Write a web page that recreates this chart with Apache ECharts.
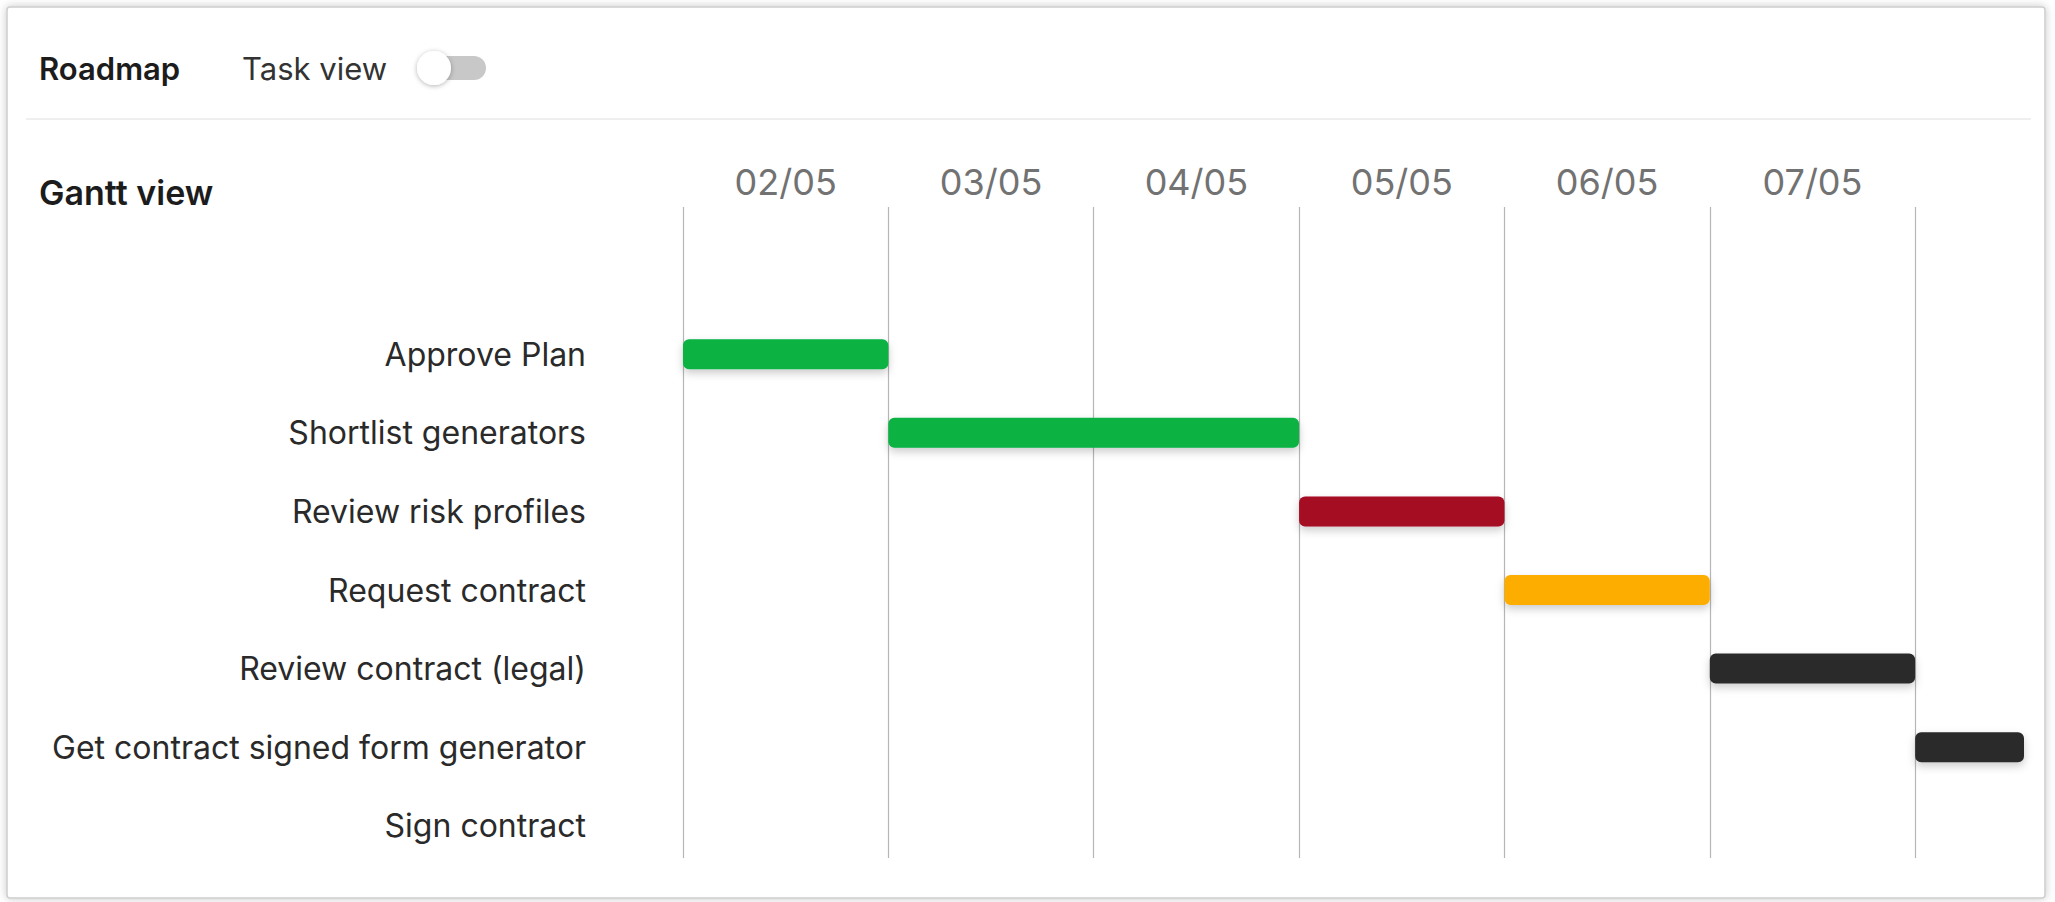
<!DOCTYPE html>
<html><head><meta charset="utf-8">
<script src="https://cdn.jsdelivr.net/npm/echarts@6/dist/echarts.min.js"></script>
<style>html,body{margin:0;padding:0;background:#fff}#c{width:2055px;height:902px}</style>
</head><body><div id="c"></div>
<script>
// ---- data ----
const tasks = ['Approve Plan','Shortlist generators','Review risk profiles','Request contract','Review contract (legal)','Get contract signed form generator','Sign contract'];
const startDay = [0, 1, 3, 4, 5, 6, null];        // days after 02/05
const durationDays = [1, 2, 1, 1, 1, 1, null];
const barColors = ['#08b343','#08b343','#a50b22','#fdac00','#2a2a2a','#2a2a2a','#2a2a2a'];
const dateLabels = ['02/05','03/05','04/05','05/05','06/05','07/05'];

const FONT = 'Inter, "Noto Sans", sans-serif';
const X_MAX = 6.53;

const chart = echarts.init(document.getElementById('c'), null, {renderer: 'svg'});
chart.setOption({
  animation: false,
  backgroundColor: '#ffffff',
  graphic: [
    {type:'rect', z:-10, shape:{x:7,y:7,width:2038,height:891,r:3},
     style:{fill:'#fff', stroke:'#cdcdcd', lineWidth:1.5, shadowBlur:8, shadowColor:'rgba(0,0,0,0.22)'}},
    {type:'rect', z:-9, shape:{x:26,y:118,width:2005,height:2}, style:{fill:'#efefef'}},
    {type:'text', z:5, x:39, y:68, style:{text:'Roadmap', font:'600 31px ' + FONT, fill:'#1c1c1c', verticalAlign:'middle'}},
    {type:'text', z:5, x:242, y:68, style:{text:'Task view', font:'400 31px ' + FONT, fill:'#333333', verticalAlign:'middle'}},
    {type:'rect', z:5, shape:{x:420,y:56,width:66,height:24,r:12}, style:{fill:'#c8c8c8'}},
    {type:'circle', z:6, shape:{cx:434,cy:68,r:17}, style:{fill:'#ffffff', shadowBlur:5, shadowColor:'rgba(0,0,0,0.3)', shadowOffsetY:1}},
    {type:'text', z:5, x:39, y:192, style:{text:'Gantt view', font:'600 34px ' + FONT, fill:'#1c1c1c', verticalAlign:'middle'}}
  ],
  grid: [
    {left: 683, right: 31, top: 207, bottom: 44},
    {left: 683, right: 31, top: 315, bottom: 37}
  ],
  xAxis: [
    {gridIndex:0, type:'value', min:0, max:X_MAX, interval:1,
     axisLine:{show:false}, axisTick:{show:false}, axisLabel:{show:false},
     splitLine:{show:true, showMinLine:true, showMaxLine:false, lineStyle:{color:'#b6b6b6', width:1.2}}},
    {gridIndex:1, type:'value', min:0, max:X_MAX, interval:1, show:false, splitLine:{show:false}},
    {gridIndex:0, type:'value', position:'top', min:0, max:X_MAX, interval:0.5,
     axisLine:{show:false}, axisTick:{show:false}, splitLine:{show:false},
     axisLabel:{show:true, margin:7, fontFamily:FONT, fontSize:36, color:'#727272',
       formatter: function (v) {
         const f = Math.floor(v);
         return Math.abs(v - f - 0.5) < 1e-6 ? (dateLabels[f] || '') : '';
       }}}
  ],
  yAxis: [
    {gridIndex:0, type:'value', min:0, max:1, show:false, splitLine:{show:false}},
    {gridIndex:1, type:'category', data: tasks, inverse:true,
     axisLine:{show:false}, axisTick:{show:false}, splitLine:{show:false},
     axisLabel:{margin:97, fontFamily:FONT, fontSize:32, color:'#2a2a2a'}}
  ],
  series: [
    {type:'bar', xAxisIndex:1, yAxisIndex:1, stack:'gantt', barWidth:30, silent:true,
     itemStyle:{color:'transparent'}, data: startDay},
    {type:'bar', xAxisIndex:1, yAxisIndex:1, stack:'gantt', barWidth:30, clip:true,
     itemStyle:{borderRadius:6, shadowBlur:8, shadowOffsetY:4, shadowColor:'rgba(0,0,0,0.2)'},
     data: durationDays.map((d, i) => d == null ? null : {value:d, itemStyle:{color:barColors[i]}})}
  ]
});
</script></body></html>
